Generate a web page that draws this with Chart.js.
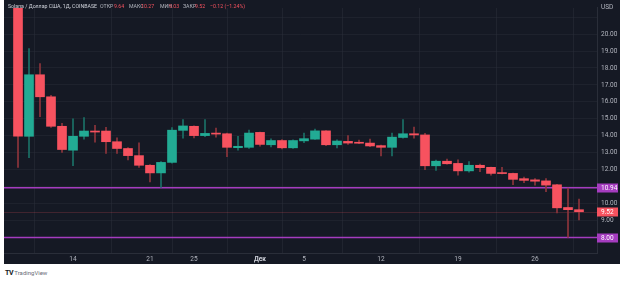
<!DOCTYPE html>
<html>
<head>
<meta charset="utf-8">
<script src="https://cdn.jsdelivr.net/npm/chart.js@4.4.0/dist/chart.umd.min.js"></script>
<style>
html, body { margin: 0; padding: 0; background: #fff; }
#wrap { position: absolute; left: 4px; top: 0; width: 616px; height: 264px; background: #151924; }
#logo { position: absolute; left: 5px; top: 269px; font: 6px Roboto, sans-serif; color: #6a6d78; white-space: nowrap; }
#logo b { color: #131722; font-size: 7px; letter-spacing: -0.5px; }
</style>
</head>
<body>
<div id="wrap"><canvas id="chart" width="616" height="264"></canvas></div>
<div id="logo"><b>TV</b> TradingView</div>
<script>
// SOL/USD daily, 9 Nov - 30 Dec 2022
var dates = ['2022-11-09','2022-11-10','2022-11-11','2022-11-12','2022-11-13','2022-11-14','2022-11-15','2022-11-16',
	'2022-11-17','2022-11-18','2022-11-19','2022-11-20','2022-11-21','2022-11-22','2022-11-23','2022-11-24','2022-11-25',
	'2022-11-26','2022-11-27','2022-11-28','2022-11-29','2022-11-30','2022-12-01','2022-12-02','2022-12-03','2022-12-04',
	'2022-12-05','2022-12-06','2022-12-07','2022-12-08','2022-12-09','2022-12-10','2022-12-11','2022-12-12','2022-12-13',
	'2022-12-14','2022-12-15','2022-12-16','2022-12-17','2022-12-18','2022-12-19','2022-12-20','2022-12-21','2022-12-22',
	'2022-12-23','2022-12-24','2022-12-25','2022-12-26','2022-12-27','2022-12-28','2022-12-29','2022-12-30'];
var open  = [24.00,13.97,17.60,16.30,14.56,13.15,13.97,14.28,14.28,13.65,13.25,12.83,12.26,11.81,12.43,14.32,14.56,
	14.01,14.14,14.12,13.30,13.32,14.20,13.47,13.72,13.29,13.70,13.80,14.29,13.47,13.67,13.58,13.57,13.42,13.32,
	13.90,14.12,14.05,12.23,12.50,12.37,11.93,12.26,12.14,11.81,11.78,11.47,11.40,11.34,11.11,9.77,9.64];
var high  = [25.00,19.14,18.26,16.39,14.73,15.00,15.08,14.62,14.50,13.88,13.30,13.59,12.30,12.48,14.49,14.96,14.58,
	14.96,14.45,14.16,13.97,14.33,14.22,13.82,13.77,13.76,14.16,14.39,14.30,13.76,14.01,13.74,13.80,13.45,14.16,
	14.96,14.52,14.14,12.56,12.63,12.58,12.48,12.33,12.16,12.14,11.80,11.57,11.47,11.47,11.13,10.92,10.27];
var low   = [12.14,12.71,15.12,14.49,13.02,12.23,13.80,13.63,12.96,12.96,12.58,12.14,11.28,10.96,12.39,13.86,13.88,
	13.95,13.92,12.77,13.15,13.25,13.38,13.34,13.23,13.25,13.60,13.78,13.42,13.29,13.49,13.53,13.36,12.81,12.81,
	13.86,13.86,12.00,11.95,12.33,11.68,11.86,11.89,11.68,11.75,11.11,11.24,11.09,10.71,9.45,8.00,9.03];
var close = [13.97,17.60,16.30,14.56,13.19,13.97,14.28,14.22,13.65,13.25,12.83,12.26,11.81,12.43,14.33,14.58,14.01,
	14.14,14.10,13.32,13.38,14.16,13.49,13.72,13.29,13.72,13.83,14.29,13.47,13.69,13.57,13.56,13.40,13.32,13.92,
	14.12,14.05,12.23,12.50,12.35,11.93,12.26,12.12,11.78,11.77,11.43,11.37,11.32,11.09,9.75,9.64,9.52];

var dayTicks = [5, 12, 16, 22, 26, 33, 40, 47];
var dayLabels = ['14', '21', '25', 'Дек', '5', '12', '19', '26'];
var priceTicks = [8, 9, 10, 11, 12, 13, 14, 15, 16, 17, 18, 19, 20, 21];
var levels = [10.94, 8.00];

var UP = '#22ab94', DOWN = '#f7525f';
var UP_WICK = '#1b7167', DOWN_WICK = '#8e353c';
var PURPLE = '#a53cbf';
var TXT = '#b2b5be';
var FONT = 'Roboto, sans-serif';

var last = close.length - 1;
var isUp = close.map(function (c, i) { return c >= open[i]; });

var overlay = {
	id: 'overlay',
	beforeDatasetsDraw: function (chart) {
		var c = chart.ctx, a = chart.chartArea, y = chart.scales.y;
		c.save();
		// last price line
		c.strokeStyle = 'rgba(247,82,95,0.2)';
		c.lineWidth = 1;
		var py = Math.round(y.getPixelForValue(close[last])) + 0.5;
		c.beginPath(); c.moveTo(a.left, py); c.lineTo(a.right, py); c.stroke();
		// horizontal levels
		c.strokeStyle = PURPLE;
		c.lineWidth = 1.5;
		levels.forEach(function (v) {
			var ly = y.getPixelForValue(v);
			c.beginPath(); c.moveTo(a.left, ly); c.lineTo(a.right, ly); c.stroke();
		});
		c.restore();
	},
	afterDraw: function (chart) {
		var c = chart.ctx, a = chart.chartArea, y = chart.scales.y;
		c.save();
		c.font = '6.5px ' + FONT;
		c.textBaseline = 'middle';
		function tag(v, bg) {
			var ty = Math.round(y.getPixelForValue(v));
			c.fillStyle = bg;
			c.fillRect(a.right, ty - 4.5, 21, 9);
			c.fillStyle = '#ffffff';
			c.fillText(v.toFixed(2), a.right + 4, ty + 0.5);
		}
		levels.forEach(function (v) { tag(v, PURPLE); });
		tag(close[last], DOWN);
		c.fillStyle = TXT;
		c.fillText('USD', a.right + 4, 7);

		// header line, squeezed to the width it has in the original
		c.font = '6px ' + FONT;
		var chg = close[last] - close[last - 1];
		var pct = chg / close[last - 1] * 100;
		var col = chg < 0 ? DOWN : UP;
		var title = 'Solana / Доллар США, 1Д, COINBASE';
		var sx = 89 / c.measureText(title).width;
		var parts = [
			[4, title, '#d1d4dc'],
			[96, 'ОТКР', TXT], [110, open[last].toFixed(2), col],
			[125, 'МАКС', TXT], [137, high[last].toFixed(2), col],
			[156, 'МИН', TXT], [165, low[last].toFixed(2), col],
			[179, 'ЗАКР', TXT], [191, close[last].toFixed(2), col],
			[206, chg.toFixed(2).replace('-', '−') + ' (' + pct.toFixed(2).replace('-', '−') + '%)', col]
		];
		parts.forEach(function (p) {
			c.save();
			c.translate(p[0], 6.5);
			c.scale(sx, 1);
			c.fillStyle = p[2];
			c.fillText(p[1], 0, 0);
			c.restore();
		});
		c.restore();
	}
};

var ctx = document.getElementById('chart').getContext('2d');
var chart = new Chart(ctx, {
	type: 'bar',
	data: {
		datasets: [{
			// bodies
			data: dates.map(function (d, i) { return { x: i, y: [open[i], close[i]] }; }),
			backgroundColor: isUp.map(function (u) { return u ? UP : DOWN; }),
			barThickness: 9,
			minBarLength: 1,
			borderWidth: 0,
			grouped: false,
			order: 0
		}, {
			// wicks
			data: dates.map(function (d, i) { return { x: i, y: [low[i], high[i]] }; }),
			backgroundColor: isUp.map(function (u) { return u ? UP_WICK : DOWN_WICK; }),
			barThickness: 1,
			borderWidth: 0,
			grouped: false,
			order: 1
		}]
	},
	options: {
		responsive: false,
		animation: false,
		layout: { padding: 0, autoPadding: false },
		plugins: { legend: { display: false }, tooltip: { enabled: false } },
		scales: {
			x: {
				type: 'linear',
				offset: false,
				min: -1.273,
				max: 52.636,
				afterBuildTicks: function (s) { s.ticks = dayTicks.map(function (v) { return { value: v }; }); },
				afterFit: function (s) { s.height = 11; },
				grid: { color: 'rgba(42,46,57,0.55)', drawTicks: false },
				border: { color: '#2a2e39' },
				ticks: {
					autoSkip: false,
					maxRotation: 0,
					padding: 2,
					color: function (c) { return c.index === 3 ? '#d1d4dc' : TXT; },
					font: function (c) { return { family: FONT, size: 6.5, weight: c.index === 3 ? 'bold' : 'normal' }; },
					callback: function (v, i) { return dayLabels[i]; }
				}
			},
			y: {
				type: 'linear',
				position: 'right',
				min: 7.086,
				max: 21.543,
				afterBuildTicks: function (s) { s.ticks = priceTicks.map(function (v) { return { value: v }; }); },
				afterFit: function (s) { s.width = 23; },
				grid: { color: 'rgba(42,46,57,0.45)', drawTicks: false },
				border: { color: '#2a2e39' },
				ticks: {
					padding: 4,
					color: TXT,
					font: { family: FONT, size: 6.5 },
					callback: function (v) { return (v === 8 || v === 11 || v === 21) ? '' : v.toFixed(2); }
				}
			}
		}
	},
	plugins: [overlay]
});
</script>
</body>
</html>
